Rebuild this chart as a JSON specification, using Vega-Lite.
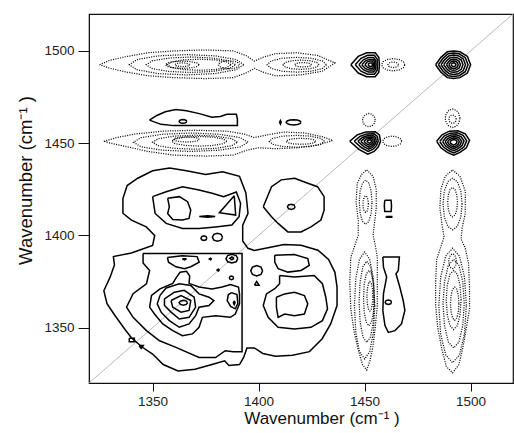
{
"$schema": "https://vega.github.io/schema/vega-lite/v6.json",
"width": 424, "height": 369,
"autosize": {"type": "none"},
"padding": {"left": 89, "top": 14, "right": 1, "bottom": 50},
"background": "white",
"config": {"view": {"stroke": "#111", "strokeWidth": 1.2}, "axis": {"labelFont": "Liberation Sans", "titleFont": "Liberation Sans"}},
"datasets": {
"diag": [{"x":1320,"y":1320},{"x":1520,"y":1520}],
"neg": [
{"c":1,"x":1325,"y":1492.5},{"c":1,"x":1330,"y":1495},{"c":1,"x":1338,"y":1497},{"c":1,"x":1348,"y":1499},{"c":1,"x":1360,"y":1500},{"c":1,"x":1375,"y":1500.5},{"c":1,"x":1388,"y":1500},{"c":1,"x":1394,"y":1497.5},{"c":1,"x":1398,"y":1494.5},{"c":1,"x":1402,"y":1496.5},{"c":1,"x":1408,"y":1498.5},{"c":1,"x":1418,"y":1499},{"c":1,"x":1428,"y":1497.5},{"c":1,"x":1436,"y":1493.5},{"c":1,"x":1430,"y":1489},{"c":1,"x":1420,"y":1487},{"c":1,"x":1408,"y":1486.5},{"c":1,"x":1402,"y":1488.5},{"c":1,"x":1398,"y":1490.5},{"c":1,"x":1394,"y":1488},{"c":1,"x":1388,"y":1485.5},{"c":1,"x":1375,"y":1485},{"c":1,"x":1360,"y":1485.5},{"c":1,"x":1348,"y":1486.5},{"c":1,"x":1338,"y":1488.5},{"c":1,"x":1330,"y":1490.5},{"c":1,"x":1325,"y":1492.5},
{"c":2,"x":1393,"y":1492.5},{"c":2,"x":1389.4,"y":1495.3},{"c":2,"x":1379.5,"y":1497.3},{"c":2,"x":1366,"y":1498},{"c":2,"x":1352.5,"y":1497.3},{"c":2,"x":1342.6,"y":1495.3},{"c":2,"x":1339,"y":1492.5},{"c":2,"x":1342.6,"y":1489.8},{"c":2,"x":1352.5,"y":1487.7},{"c":2,"x":1366,"y":1487},{"c":2,"x":1379.5,"y":1487.7},{"c":2,"x":1389.4,"y":1489.8},{"c":2,"x":1393,"y":1492.5},
{"c":3,"x":1389,"y":1492.5},{"c":3,"x":1386.2,"y":1494.6},{"c":3,"x":1378.5,"y":1496.1},{"c":3,"x":1368,"y":1496.7},{"c":3,"x":1357.5,"y":1496.1},{"c":3,"x":1349.8,"y":1494.6},{"c":3,"x":1347,"y":1492.5},{"c":3,"x":1349.8,"y":1490.4},{"c":3,"x":1357.5,"y":1488.9},{"c":3,"x":1368,"y":1488.3},{"c":3,"x":1378.5,"y":1488.9},{"c":3,"x":1386.2,"y":1490.4},{"c":3,"x":1389,"y":1492.5},
{"c":4,"x":1387,"y":1492.5},{"c":4,"x":1385,"y":1494},{"c":4,"x":1379.5,"y":1495.1},{"c":4,"x":1372,"y":1495.5},{"c":4,"x":1364.5,"y":1495.1},{"c":4,"x":1359,"y":1494},{"c":4,"x":1357,"y":1492.5},{"c":4,"x":1359,"y":1491},{"c":4,"x":1364.5,"y":1489.9},{"c":4,"x":1372,"y":1489.5},{"c":4,"x":1379.5,"y":1489.9},{"c":4,"x":1385,"y":1491},{"c":4,"x":1387,"y":1492.5},
{"c":5,"x":1372,"y":1492.5},{"c":5,"x":1370.9,"y":1493.5},{"c":5,"x":1368,"y":1494.2},{"c":5,"x":1364,"y":1494.5},{"c":5,"x":1360,"y":1494.2},{"c":5,"x":1357.1,"y":1493.5},{"c":5,"x":1356,"y":1492.5},{"c":5,"x":1357.1,"y":1491.5},{"c":5,"x":1360,"y":1490.8},{"c":5,"x":1364,"y":1490.5},{"c":5,"x":1368,"y":1490.8},{"c":5,"x":1370.9,"y":1491.5},{"c":5,"x":1372,"y":1492.5},
{"c":6,"x":1391,"y":1492.5},{"c":6,"x":1390.3,"y":1493.6},{"c":6,"x":1388.5,"y":1494.4},{"c":6,"x":1386,"y":1494.7},{"c":6,"x":1383.5,"y":1494.4},{"c":6,"x":1381.7,"y":1493.6},{"c":6,"x":1381,"y":1492.5},{"c":6,"x":1381.7,"y":1491.4},{"c":6,"x":1383.5,"y":1490.6},{"c":6,"x":1386,"y":1490.3},{"c":6,"x":1388.5,"y":1490.6},{"c":6,"x":1390.3,"y":1491.4},{"c":6,"x":1391,"y":1492.5},
{"c":7,"x":1367.5,"y":1492.5},{"c":7,"x":1367,"y":1493},{"c":7,"x":1365.75,"y":1493.4},{"c":7,"x":1364,"y":1493.5},{"c":7,"x":1362.25,"y":1493.4},{"c":7,"x":1361,"y":1493},{"c":7,"x":1360.5,"y":1492.5},{"c":7,"x":1361,"y":1492},{"c":7,"x":1362.25,"y":1491.6},{"c":7,"x":1364,"y":1491.5},{"c":7,"x":1365.75,"y":1491.6},{"c":7,"x":1367,"y":1492},{"c":7,"x":1367.5,"y":1492.5},
{"c":8,"x":1432,"y":1492.5},{"c":8,"x":1430.1,"y":1494.5},{"c":8,"x":1425,"y":1496},{"c":8,"x":1418,"y":1496.5},{"c":8,"x":1411,"y":1496},{"c":8,"x":1405.9,"y":1494.5},{"c":8,"x":1404,"y":1492.5},{"c":8,"x":1405.9,"y":1490.5},{"c":8,"x":1411,"y":1489},{"c":8,"x":1418,"y":1488.5},{"c":8,"x":1425,"y":1489},{"c":8,"x":1430.1,"y":1490.5},{"c":8,"x":1432,"y":1492.5},
{"c":9,"x":1428.5,"y":1492.5},{"c":9,"x":1427.4,"y":1493.75},{"c":9,"x":1424.25,"y":1494.7},{"c":9,"x":1420,"y":1495},{"c":9,"x":1415.75,"y":1494.7},{"c":9,"x":1412.6,"y":1493.75},{"c":9,"x":1411.5,"y":1492.5},{"c":9,"x":1412.6,"y":1491.25},{"c":9,"x":1415.75,"y":1490.3},{"c":9,"x":1420,"y":1490},{"c":9,"x":1424.25,"y":1490.3},{"c":9,"x":1427.4,"y":1491.25},{"c":9,"x":1428.5,"y":1492.5},
{"c":10,"x":1425,"y":1492.5},{"c":10,"x":1424.5,"y":1493.1},{"c":10,"x":1423,"y":1493.5},{"c":10,"x":1421,"y":1493.7},{"c":10,"x":1419,"y":1493.5},{"c":10,"x":1417.5,"y":1493.1},{"c":10,"x":1417,"y":1492.5},{"c":10,"x":1417.5,"y":1491.9},{"c":10,"x":1419,"y":1491.5},{"c":10,"x":1421,"y":1491.3},{"c":10,"x":1423,"y":1491.5},{"c":10,"x":1424.5,"y":1491.9},{"c":10,"x":1425,"y":1492.5},
{"c":11,"x":1327,"y":1451},{"c":11,"x":1333,"y":1453},{"c":11,"x":1342,"y":1455},{"c":11,"x":1355,"y":1456.5},{"c":11,"x":1370,"y":1457},{"c":11,"x":1385,"y":1456.5},{"c":11,"x":1393,"y":1455},{"c":11,"x":1398,"y":1453},{"c":11,"x":1404,"y":1454.5},{"c":11,"x":1412,"y":1456},{"c":11,"x":1422,"y":1455.5},{"c":11,"x":1430,"y":1453.5},{"c":11,"x":1435,"y":1451.5},{"c":11,"x":1428,"y":1449},{"c":11,"x":1418,"y":1447.5},{"c":11,"x":1408,"y":1447},{"c":11,"x":1400,"y":1447.5},{"c":11,"x":1394,"y":1446},{"c":11,"x":1388,"y":1443.5},{"c":11,"x":1375,"y":1443},{"c":11,"x":1360,"y":1443.5},{"c":11,"x":1348,"y":1445.5},{"c":11,"x":1338,"y":1448},{"c":11,"x":1330,"y":1450},{"c":11,"x":1327,"y":1451},
{"c":12,"x":1395,"y":1450.5},{"c":12,"x":1391.4,"y":1453},{"c":12,"x":1381.5,"y":1454.8},{"c":12,"x":1368,"y":1455.5},{"c":12,"x":1354.5,"y":1454.8},{"c":12,"x":1344.6,"y":1453},{"c":12,"x":1341,"y":1450.5},{"c":12,"x":1344.6,"y":1448},{"c":12,"x":1354.5,"y":1446.2},{"c":12,"x":1368,"y":1445.5},{"c":12,"x":1381.5,"y":1446.2},{"c":12,"x":1391.4,"y":1448},{"c":12,"x":1395,"y":1450.5},
{"c":13,"x":1390,"y":1450.5},{"c":13,"x":1387.3,"y":1452.4},{"c":13,"x":1380,"y":1453.8},{"c":13,"x":1370,"y":1454.3},{"c":13,"x":1360,"y":1453.8},{"c":13,"x":1352.7,"y":1452.4},{"c":13,"x":1350,"y":1450.5},{"c":13,"x":1352.7,"y":1448.6},{"c":13,"x":1360,"y":1447.2},{"c":13,"x":1370,"y":1446.7},{"c":13,"x":1380,"y":1447.2},{"c":13,"x":1387.3,"y":1448.6},{"c":13,"x":1390,"y":1450.5},
{"c":14,"x":1385,"y":1451},{"c":14,"x":1383.3,"y":1452.3},{"c":14,"x":1378.5,"y":1453.25},{"c":14,"x":1372,"y":1453.6},{"c":14,"x":1365.5,"y":1453.25},{"c":14,"x":1360.7,"y":1452.3},{"c":14,"x":1359,"y":1451},{"c":14,"x":1360.7,"y":1449.7},{"c":14,"x":1365.5,"y":1448.75},{"c":14,"x":1372,"y":1448.4},{"c":14,"x":1378.5,"y":1448.75},{"c":14,"x":1383.3,"y":1449.7},{"c":14,"x":1385,"y":1451},
{"c":15,"x":1372,"y":1452},{"c":15,"x":1371.2,"y":1452.7},{"c":15,"x":1369,"y":1453.2},{"c":15,"x":1366,"y":1453.4},{"c":15,"x":1363,"y":1453.2},{"c":15,"x":1360.8,"y":1452.7},{"c":15,"x":1360,"y":1452},{"c":15,"x":1360.8,"y":1451.3},{"c":15,"x":1363,"y":1450.8},{"c":15,"x":1366,"y":1450.6},{"c":15,"x":1369,"y":1450.8},{"c":15,"x":1371.2,"y":1451.3},{"c":15,"x":1372,"y":1452},
{"c":16,"x":1431,"y":1451},{"c":16,"x":1429.3,"y":1452.6},{"c":16,"x":1424.5,"y":1453.8},{"c":16,"x":1418,"y":1454.2},{"c":16,"x":1411.5,"y":1453.8},{"c":16,"x":1406.7,"y":1452.6},{"c":16,"x":1405,"y":1451},{"c":16,"x":1406.7,"y":1449.4},{"c":16,"x":1411.5,"y":1448.2},{"c":16,"x":1418,"y":1447.8},{"c":16,"x":1424.5,"y":1448.2},{"c":16,"x":1429.3,"y":1449.4},{"c":16,"x":1431,"y":1451},
{"c":17,"x":1427,"y":1451},{"c":17,"x":1426.1,"y":1451.8},{"c":17,"x":1423.5,"y":1452.4},{"c":17,"x":1420,"y":1452.6},{"c":17,"x":1416.5,"y":1452.4},{"c":17,"x":1413.9,"y":1451.8},{"c":17,"x":1413,"y":1451},{"c":17,"x":1413.9,"y":1450.2},{"c":17,"x":1416.5,"y":1449.6},{"c":17,"x":1420,"y":1449.4},{"c":17,"x":1423.5,"y":1449.6},{"c":17,"x":1426.1,"y":1450.2},{"c":17,"x":1427,"y":1451},
{"c":18,"x":1469,"y":1492.5},{"c":18,"x":1468.26,"y":1494.15},{"c":18,"x":1466.25,"y":1495.36},{"c":18,"x":1463.5,"y":1495.8},{"c":18,"x":1460.75,"y":1495.36},{"c":18,"x":1458.74,"y":1494.15},{"c":18,"x":1458,"y":1492.5},{"c":18,"x":1458.74,"y":1490.85},{"c":18,"x":1460.75,"y":1489.64},{"c":18,"x":1463.5,"y":1489.2},{"c":18,"x":1466.25,"y":1489.64},{"c":18,"x":1468.26,"y":1490.85},{"c":18,"x":1469,"y":1492.5},
{"c":19,"x":1466,"y":1492.5},{"c":19,"x":1465.7,"y":1493.25},{"c":19,"x":1464.75,"y":1493.8},{"c":19,"x":1463.5,"y":1494},{"c":19,"x":1462.25,"y":1493.8},{"c":19,"x":1461.3,"y":1493.25},{"c":19,"x":1461,"y":1492.5},{"c":19,"x":1461.3,"y":1491.75},{"c":19,"x":1462.25,"y":1491.2},{"c":19,"x":1463.5,"y":1491},{"c":19,"x":1464.75,"y":1491.2},{"c":19,"x":1465.7,"y":1491.75},{"c":19,"x":1466,"y":1492.5},
{"c":20,"x":1455,"y":1462.5},{"c":20,"x":1454.6,"y":1464.3},{"c":20,"x":1453.5,"y":1465.6},{"c":20,"x":1452,"y":1466.1},{"c":20,"x":1450.5,"y":1465.6},{"c":20,"x":1449.4,"y":1464.3},{"c":20,"x":1449,"y":1462.5},{"c":20,"x":1449.4,"y":1460.7},{"c":20,"x":1450.5,"y":1459.4},{"c":20,"x":1452,"y":1458.9},{"c":20,"x":1453.5,"y":1459.4},{"c":20,"x":1454.6,"y":1460.7},{"c":20,"x":1455,"y":1462.5},
{"c":21,"x":1467.5,"y":1451},{"c":21,"x":1466.9,"y":1452.4},{"c":21,"x":1465.25,"y":1453.4},{"c":21,"x":1463,"y":1453.8},{"c":21,"x":1460.75,"y":1453.4},{"c":21,"x":1459.1,"y":1452.4},{"c":21,"x":1458.5,"y":1451},{"c":21,"x":1459.1,"y":1449.6},{"c":21,"x":1460.75,"y":1448.6},{"c":21,"x":1463,"y":1448.2},{"c":21,"x":1465.25,"y":1448.6},{"c":21,"x":1466.9,"y":1449.6},{"c":21,"x":1467.5,"y":1451},
{"c":22,"x":1495,"y":1463.5},{"c":22,"x":1494.5,"y":1466},{"c":22,"x":1493.25,"y":1467.8},{"c":22,"x":1491.5,"y":1468.5},{"c":22,"x":1489.75,"y":1467.8},{"c":22,"x":1488.5,"y":1466},{"c":22,"x":1488,"y":1463.5},{"c":22,"x":1488.5,"y":1461},{"c":22,"x":1489.75,"y":1459.2},{"c":22,"x":1491.5,"y":1458.5},{"c":22,"x":1493.25,"y":1459.2},{"c":22,"x":1494.5,"y":1461},{"c":22,"x":1495,"y":1463.5},
{"c":23,"x":1493.2,"y":1463},{"c":23,"x":1493,"y":1464.15},{"c":23,"x":1492.35,"y":1465},{"c":23,"x":1491.5,"y":1465.3},{"c":23,"x":1490.65,"y":1465},{"c":23,"x":1490,"y":1464.15},{"c":23,"x":1489.8,"y":1463},{"c":23,"x":1490,"y":1461.85},{"c":23,"x":1490.65,"y":1461},{"c":23,"x":1491.5,"y":1460.7},{"c":23,"x":1492.35,"y":1461},{"c":23,"x":1493,"y":1461.85},{"c":23,"x":1493.2,"y":1463},
{"c":24,"x":1451,"y":1435.5},{"c":24,"x":1454,"y":1432},{"c":24,"x":1455.5,"y":1425},{"c":24,"x":1455.5,"y":1415},{"c":24,"x":1454.5,"y":1405},{"c":24,"x":1454,"y":1400},{"c":24,"x":1455,"y":1395},{"c":24,"x":1456,"y":1388},{"c":24,"x":1456,"y":1375},{"c":24,"x":1456,"y":1362},{"c":24,"x":1455,"y":1350},{"c":24,"x":1454,"y":1340},{"c":24,"x":1452.5,"y":1332},{"c":24,"x":1451,"y":1327},{"c":24,"x":1449,"y":1330},{"c":24,"x":1447,"y":1338},{"c":24,"x":1445,"y":1348},{"c":24,"x":1443.5,"y":1360},{"c":24,"x":1443,"y":1375},{"c":24,"x":1443.5,"y":1388},{"c":24,"x":1445.5,"y":1395},{"c":24,"x":1447,"y":1400},{"c":24,"x":1447,"y":1408},{"c":24,"x":1446,"y":1418},{"c":24,"x":1446.5,"y":1428},{"c":24,"x":1448.5,"y":1433},{"c":24,"x":1451,"y":1435.5},
{"c":25,"x":1453.5,"y":1418},{"c":25,"x":1453.1,"y":1424},{"c":25,"x":1452,"y":1428.4},{"c":25,"x":1450.5,"y":1430},{"c":25,"x":1449,"y":1428.4},{"c":25,"x":1447.9,"y":1424},{"c":25,"x":1447.5,"y":1418},{"c":25,"x":1447.9,"y":1412},{"c":25,"x":1449,"y":1407.6},{"c":25,"x":1450.5,"y":1406},{"c":25,"x":1452,"y":1407.6},{"c":25,"x":1453.1,"y":1412},{"c":25,"x":1453.5,"y":1418},
{"c":26,"x":1451.8,"y":1417},{"c":26,"x":1451.6,"y":1419.25},{"c":26,"x":1451.15,"y":1420.9},{"c":26,"x":1450.5,"y":1421.5},{"c":26,"x":1449.85,"y":1420.9},{"c":26,"x":1449.4,"y":1419.25},{"c":26,"x":1449.2,"y":1417},{"c":26,"x":1449.4,"y":1414.75},{"c":26,"x":1449.85,"y":1413.1},{"c":26,"x":1450.5,"y":1412.5},{"c":26,"x":1451.15,"y":1413.1},{"c":26,"x":1451.6,"y":1414.75},{"c":26,"x":1451.8,"y":1417},
{"c":27,"x":1454.8,"y":1362},{"c":27,"x":1454.16,"y":1376.5},{"c":27,"x":1452.4,"y":1387.1},{"c":27,"x":1450,"y":1391},{"c":27,"x":1447.6,"y":1387.1},{"c":27,"x":1445.84,"y":1376.5},{"c":27,"x":1445.2,"y":1362},{"c":27,"x":1445.84,"y":1347.5},{"c":27,"x":1447.6,"y":1336.9},{"c":27,"x":1450,"y":1333},{"c":27,"x":1452.4,"y":1336.9},{"c":27,"x":1454.16,"y":1347.5},{"c":27,"x":1454.8,"y":1362},
{"c":28,"x":1454.6,"y":1364},{"c":28,"x":1454.1,"y":1375},{"c":28,"x":1452.8,"y":1383.05},{"c":28,"x":1451,"y":1386},{"c":28,"x":1449.2,"y":1383.05},{"c":28,"x":1447.9,"y":1375},{"c":28,"x":1447.4,"y":1364},{"c":28,"x":1447.9,"y":1353},{"c":28,"x":1449.2,"y":1344.95},{"c":28,"x":1451,"y":1342},{"c":28,"x":1452.8,"y":1344.95},{"c":28,"x":1454.1,"y":1353},{"c":28,"x":1454.6,"y":1364},
{"c":29,"x":1454.5,"y":1366},{"c":29,"x":1454.2,"y":1373.5},{"c":29,"x":1453.25,"y":1379},{"c":29,"x":1452,"y":1381},{"c":29,"x":1450.75,"y":1379},{"c":29,"x":1449.8,"y":1373.5},{"c":29,"x":1449.5,"y":1366},{"c":29,"x":1449.8,"y":1358.5},{"c":29,"x":1450.75,"y":1353},{"c":29,"x":1452,"y":1351},{"c":29,"x":1453.25,"y":1353},{"c":29,"x":1454.2,"y":1358.5},{"c":29,"x":1454.5,"y":1366},
{"c":30,"x":1453.9,"y":1367},{"c":30,"x":1453.7,"y":1371},{"c":30,"x":1453.2,"y":1373.9},{"c":30,"x":1452.5,"y":1375},{"c":30,"x":1451.8,"y":1373.9},{"c":30,"x":1451.3,"y":1371},{"c":30,"x":1451.1,"y":1367},{"c":30,"x":1451.3,"y":1363},{"c":30,"x":1451.8,"y":1360.1},{"c":30,"x":1452.5,"y":1359},{"c":30,"x":1453.2,"y":1360.1},{"c":30,"x":1453.7,"y":1363},{"c":30,"x":1453.9,"y":1367},
{"c":31,"x":1491.5,"y":1435.5},{"c":31,"x":1495,"y":1432},{"c":31,"x":1497.5,"y":1424},{"c":31,"x":1497.5,"y":1412},{"c":31,"x":1496,"y":1404},{"c":31,"x":1495.5,"y":1398},{"c":31,"x":1497.5,"y":1393},{"c":31,"x":1499,"y":1385},{"c":31,"x":1499.5,"y":1372},{"c":31,"x":1499.5,"y":1360},{"c":31,"x":1498,"y":1350},{"c":31,"x":1496.5,"y":1340},{"c":31,"x":1494.5,"y":1330},{"c":31,"x":1491.5,"y":1325.5},{"c":31,"x":1488.5,"y":1329},{"c":31,"x":1486.5,"y":1338},{"c":31,"x":1484.5,"y":1350},{"c":31,"x":1483.5,"y":1362},{"c":31,"x":1483.5,"y":1375},{"c":31,"x":1484,"y":1387},{"c":31,"x":1486,"y":1394},{"c":31,"x":1487.5,"y":1399},{"c":31,"x":1486.5,"y":1406},{"c":31,"x":1485.5,"y":1415},{"c":31,"x":1486,"y":1425},{"c":31,"x":1488,"y":1432},{"c":31,"x":1491.5,"y":1435.5},
{"c":32,"x":1496,"y":1417},{"c":32,"x":1495.4,"y":1424},{"c":32,"x":1493.75,"y":1429.1},{"c":32,"x":1491.5,"y":1431},{"c":32,"x":1489.25,"y":1429.1},{"c":32,"x":1487.6,"y":1424},{"c":32,"x":1487,"y":1417},{"c":32,"x":1487.6,"y":1410},{"c":32,"x":1489.25,"y":1404.9},{"c":32,"x":1491.5,"y":1403},{"c":32,"x":1493.75,"y":1404.9},{"c":32,"x":1495.4,"y":1410},{"c":32,"x":1496,"y":1417},
{"c":33,"x":1493.8,"y":1418},{"c":33,"x":1493.5,"y":1422},{"c":33,"x":1492.65,"y":1424.9},{"c":33,"x":1491.5,"y":1426},{"c":33,"x":1490.35,"y":1424.9},{"c":33,"x":1489.5,"y":1422},{"c":33,"x":1489.2,"y":1418},{"c":33,"x":1489.5,"y":1414},{"c":33,"x":1490.35,"y":1411.1},{"c":33,"x":1491.5,"y":1410},{"c":33,"x":1492.65,"y":1411.1},{"c":33,"x":1493.5,"y":1414},{"c":33,"x":1493.8,"y":1418},
{"c":34,"x":1498,"y":1362},{"c":34,"x":1497.1,"y":1377.5},{"c":34,"x":1494.75,"y":1388.8},{"c":34,"x":1491.5,"y":1393},{"c":34,"x":1488.25,"y":1388.8},{"c":34,"x":1485.9,"y":1377.5},{"c":34,"x":1485,"y":1362},{"c":34,"x":1485.9,"y":1346.5},{"c":34,"x":1488.25,"y":1335.2},{"c":34,"x":1491.5,"y":1331},{"c":34,"x":1494.75,"y":1335.2},{"c":34,"x":1497.1,"y":1346.5},{"c":34,"x":1498,"y":1362},
{"c":35,"x":1497,"y":1363},{"c":35,"x":1496.3,"y":1375},{"c":35,"x":1494.5,"y":1383.8},{"c":35,"x":1492,"y":1387},{"c":35,"x":1489.5,"y":1383.8},{"c":35,"x":1487.7,"y":1375},{"c":35,"x":1487,"y":1363},{"c":35,"x":1487.7,"y":1351},{"c":35,"x":1489.5,"y":1342.2},{"c":35,"x":1492,"y":1339},{"c":35,"x":1494.5,"y":1342.2},{"c":35,"x":1496.3,"y":1351},{"c":35,"x":1497,"y":1363},
{"c":36,"x":1495.5,"y":1365},{"c":36,"x":1495,"y":1373},{"c":36,"x":1493.75,"y":1378.9},{"c":36,"x":1492,"y":1381},{"c":36,"x":1490.25,"y":1378.9},{"c":36,"x":1489,"y":1373},{"c":36,"x":1488.5,"y":1365},{"c":36,"x":1489,"y":1357},{"c":36,"x":1490.25,"y":1351.1},{"c":36,"x":1492,"y":1349},{"c":36,"x":1493.75,"y":1351.1},{"c":36,"x":1495,"y":1357},{"c":36,"x":1495.5,"y":1365},
{"c":37,"x":1494.5,"y":1363},{"c":37,"x":1494.2,"y":1367.5},{"c":37,"x":1493.5,"y":1370.8},{"c":37,"x":1492.5,"y":1372},{"c":37,"x":1491.5,"y":1370.8},{"c":37,"x":1490.8,"y":1367.5},{"c":37,"x":1490.5,"y":1363},{"c":37,"x":1490.8,"y":1358.5},{"c":37,"x":1491.5,"y":1355.2},{"c":37,"x":1492.5,"y":1354},{"c":37,"x":1493.5,"y":1355.2},{"c":37,"x":1494.2,"y":1358.5},{"c":37,"x":1494.5,"y":1363},
{"c":38,"x":1493.3,"y":1386},{"c":38,"x":1493.06,"y":1388},{"c":38,"x":1492.4,"y":1389.46},{"c":38,"x":1491.5,"y":1390},{"c":38,"x":1490.6,"y":1389.46},{"c":38,"x":1489.94,"y":1388},{"c":38,"x":1489.7,"y":1386},{"c":38,"x":1489.94,"y":1384},{"c":38,"x":1490.6,"y":1382.54},{"c":38,"x":1491.5,"y":1382},{"c":38,"x":1492.4,"y":1382.54},{"c":38,"x":1493.06,"y":1384},{"c":38,"x":1493.3,"y":1386}
],
"pos": [
{"c":101,"x":1348.5,"y":1462.5},{"c":101,"x":1352,"y":1465},{"c":101,"x":1356,"y":1467},{"c":101,"x":1361,"y":1468.2},{"c":101,"x":1366,"y":1467.5},{"c":101,"x":1372,"y":1466},{"c":101,"x":1378,"y":1464},{"c":101,"x":1382,"y":1464.5},{"c":101,"x":1385,"y":1465.7},{"c":101,"x":1389.5,"y":1465.7},{"c":101,"x":1390,"y":1463},{"c":101,"x":1390,"y":1459.5},{"c":101,"x":1380,"y":1459.5},{"c":101,"x":1370,"y":1459.5},{"c":101,"x":1360,"y":1459.5},{"c":101,"x":1354,"y":1460.2},{"c":101,"x":1348.5,"y":1462.5},
{"c":102,"x":1366.1,"y":1461.8},{"c":102,"x":1365.86,"y":1462.3},{"c":102,"x":1365.2,"y":1462.67},{"c":102,"x":1364.3,"y":1462.8},{"c":102,"x":1363.4,"y":1462.67},{"c":102,"x":1362.74,"y":1462.3},{"c":102,"x":1362.5,"y":1461.8},{"c":102,"x":1362.74,"y":1461.3},{"c":102,"x":1363.4,"y":1460.93},{"c":102,"x":1364.3,"y":1460.8},{"c":102,"x":1365.2,"y":1460.93},{"c":102,"x":1365.86,"y":1461.3},{"c":102,"x":1366.1,"y":1461.8},
{"c":103,"x":1420,"y":1461.3},{"c":103,"x":1419.5,"y":1462},{"c":103,"x":1418.25,"y":1462.5},{"c":103,"x":1416.5,"y":1462.7},{"c":103,"x":1414.75,"y":1462.5},{"c":103,"x":1413.5,"y":1462},{"c":103,"x":1413,"y":1461.3},{"c":103,"x":1413.5,"y":1460.6},{"c":103,"x":1414.75,"y":1460.1},{"c":103,"x":1416.5,"y":1459.9},{"c":103,"x":1418.25,"y":1460.1},{"c":103,"x":1419.5,"y":1460.6},{"c":103,"x":1420,"y":1461.3},
{"c":104,"x":1410.7,"y":1461.3},{"c":104,"x":1410.3,"y":1462.3},{"c":104,"x":1409.9,"y":1461.3},{"c":104,"x":1410.3,"y":1460.3},{"c":104,"x":1410.7,"y":1461.3},
{"c":111,"x":1443.5,"y":1492.5},{"c":111,"x":1447,"y":1497},{"c":111,"x":1451,"y":1499},{"c":111,"x":1455,"y":1499},{"c":111,"x":1456.7,"y":1496.5},{"c":111,"x":1457,"y":1492.5},{"c":111,"x":1456.7,"y":1488.5},{"c":111,"x":1455,"y":1486},{"c":111,"x":1451,"y":1486},{"c":111,"x":1447,"y":1488},{"c":111,"x":1443.5,"y":1492.5},
{"c":112,"x":1445.6,"y":1492.5},{"c":112,"x":1448.3,"y":1496},{"c":112,"x":1451.4,"y":1497.6},{"c":112,"x":1454.6,"y":1497.6},{"c":112,"x":1455.9,"y":1495.6},{"c":112,"x":1456.1,"y":1492.5},{"c":112,"x":1455.9,"y":1489.4},{"c":112,"x":1454.6,"y":1487.4},{"c":112,"x":1451.4,"y":1487.4},{"c":112,"x":1448.3,"y":1489},{"c":112,"x":1445.6,"y":1492.5},
{"c":113,"x":1447.3,"y":1492.5},{"c":113,"x":1449.4,"y":1495.2},{"c":113,"x":1451.8,"y":1496.4},{"c":113,"x":1454.2,"y":1496.4},{"c":113,"x":1455.2,"y":1494.9},{"c":113,"x":1455.4,"y":1492.5},{"c":113,"x":1455.2,"y":1490.1},{"c":113,"x":1454.2,"y":1488.6},{"c":113,"x":1451.8,"y":1488.6},{"c":113,"x":1449.4,"y":1489.8},{"c":113,"x":1447.3,"y":1492.5},
{"c":114,"x":1448.7,"y":1492.5},{"c":114,"x":1450.3,"y":1494.5},{"c":114,"x":1452.1,"y":1495.4},{"c":114,"x":1453.9,"y":1495.4},{"c":114,"x":1454.7,"y":1494.3},{"c":114,"x":1454.8,"y":1492.5},{"c":114,"x":1454.7,"y":1490.7},{"c":114,"x":1453.9,"y":1489.6},{"c":114,"x":1452.1,"y":1489.6},{"c":114,"x":1450.3,"y":1490.5},{"c":114,"x":1448.7,"y":1492.5},
{"c":115,"x":1450.1,"y":1492.5},{"c":115,"x":1451.2,"y":1493.9},{"c":115,"x":1452.4,"y":1494.5},{"c":115,"x":1453.6,"y":1494.5},{"c":115,"x":1454.1,"y":1493.7},{"c":115,"x":1454.2,"y":1492.5},{"c":115,"x":1454.1,"y":1491.3},{"c":115,"x":1453.6,"y":1490.6},{"c":115,"x":1452.4,"y":1490.6},{"c":115,"x":1451.2,"y":1491.2},{"c":115,"x":1450.1,"y":1492.5},
{"c":116,"x":1451.6,"y":1492.5},{"c":116,"x":1452.1,"y":1493.2},{"c":116,"x":1452.7,"y":1493.5},{"c":116,"x":1453.3,"y":1493.5},{"c":116,"x":1453.6,"y":1493.1},{"c":116,"x":1453.6,"y":1492.5},{"c":116,"x":1453.6,"y":1491.9},{"c":116,"x":1453.3,"y":1491.5},{"c":116,"x":1452.7,"y":1491.5},{"c":116,"x":1452.1,"y":1491.8},{"c":116,"x":1451.6,"y":1492.5},
{"c":121,"x":1483.5,"y":1492.5},{"c":121,"x":1486,"y":1496.5},{"c":121,"x":1489,"y":1499.5},{"c":121,"x":1492,"y":1500},{"c":121,"x":1495,"y":1499.5},{"c":121,"x":1498.5,"y":1497},{"c":121,"x":1500,"y":1492.5},{"c":121,"x":1498.5,"y":1488},{"c":121,"x":1495,"y":1485.5},{"c":121,"x":1492,"y":1485},{"c":121,"x":1489,"y":1485.5},{"c":121,"x":1486,"y":1488.5},{"c":121,"x":1483.5,"y":1492.5},
{"c":122,"x":1484.8,"y":1492.5},{"c":122,"x":1486.9,"y":1495.9},{"c":122,"x":1489.45,"y":1498.45},{"c":122,"x":1492,"y":1498.9},{"c":122,"x":1494.55,"y":1498.45},{"c":122,"x":1497.5,"y":1496.3},{"c":122,"x":1498.8,"y":1492.5},{"c":122,"x":1497.5,"y":1488.7},{"c":122,"x":1494.55,"y":1486.55},{"c":122,"x":1492,"y":1486.1},{"c":122,"x":1489.45,"y":1486.55},{"c":122,"x":1486.9,"y":1489.1},{"c":122,"x":1484.8,"y":1492.5},
{"c":123,"x":1486.05,"y":1492.5},{"c":123,"x":1487.8,"y":1495.3},{"c":123,"x":1489.9,"y":1497.4},{"c":123,"x":1492,"y":1497.75},{"c":123,"x":1494.1,"y":1497.4},{"c":123,"x":1496.55,"y":1495.65},{"c":123,"x":1497.6,"y":1492.5},{"c":123,"x":1496.55,"y":1489.35},{"c":123,"x":1494.1,"y":1487.6},{"c":123,"x":1492,"y":1487.25},{"c":123,"x":1489.9,"y":1487.6},{"c":123,"x":1487.8,"y":1489.7},{"c":123,"x":1486.05,"y":1492.5},
{"c":124,"x":1487.3,"y":1492.5},{"c":124,"x":1488.7,"y":1494.7},{"c":124,"x":1490.35,"y":1496.35},{"c":124,"x":1492,"y":1496.6},{"c":124,"x":1493.65,"y":1496.35},{"c":124,"x":1495.6,"y":1495},{"c":124,"x":1496.4,"y":1492.5},{"c":124,"x":1495.6,"y":1490},{"c":124,"x":1493.65,"y":1488.65},{"c":124,"x":1492,"y":1488.4},{"c":124,"x":1490.35,"y":1488.65},{"c":124,"x":1488.7,"y":1490.3},{"c":124,"x":1487.3,"y":1492.5},
{"c":125,"x":1488.6,"y":1492.5},{"c":125,"x":1489.6,"y":1494.1},{"c":125,"x":1490.8,"y":1495.3},{"c":125,"x":1492,"y":1495.5},{"c":125,"x":1493.2,"y":1495.3},{"c":125,"x":1494.6,"y":1494.3},{"c":125,"x":1495.2,"y":1492.5},{"c":125,"x":1494.6,"y":1490.7},{"c":125,"x":1493.2,"y":1489.7},{"c":125,"x":1492,"y":1489.5},{"c":125,"x":1490.8,"y":1489.7},{"c":125,"x":1489.6,"y":1490.9},{"c":125,"x":1488.6,"y":1492.5},
{"c":126,"x":1489.7,"y":1492.5},{"c":126,"x":1490.4,"y":1493.6},{"c":126,"x":1491.2,"y":1494.4},{"c":126,"x":1492,"y":1494.5},{"c":126,"x":1492.8,"y":1494.4},{"c":126,"x":1493.75,"y":1493.7},{"c":126,"x":1494.15,"y":1492.5},{"c":126,"x":1493.75,"y":1491.3},{"c":126,"x":1492.8,"y":1490.6},{"c":126,"x":1492,"y":1490.5},{"c":126,"x":1491.2,"y":1490.6},{"c":126,"x":1490.4,"y":1491.4},{"c":126,"x":1489.7,"y":1492.5},
{"c":127,"x":1490.8,"y":1492.5},{"c":127,"x":1491.15,"y":1493.05},{"c":127,"x":1491.6,"y":1493.5},{"c":127,"x":1492,"y":1493.55},{"c":127,"x":1492.4,"y":1493.5},{"c":127,"x":1492.9,"y":1493.1},{"c":127,"x":1493.1,"y":1492.5},{"c":127,"x":1492.9,"y":1491.9},{"c":127,"x":1492.4,"y":1491.5},{"c":127,"x":1492,"y":1491.45},{"c":127,"x":1491.6,"y":1491.5},{"c":127,"x":1491.15,"y":1491.95},{"c":127,"x":1490.8,"y":1492.5},
{"c":131,"x":1443,"y":1451},{"c":131,"x":1446.5,"y":1454.5},{"c":131,"x":1450.5,"y":1456},{"c":131,"x":1455,"y":1456.2},{"c":131,"x":1457,"y":1454.5},{"c":131,"x":1457.5,"y":1451},{"c":131,"x":1456.5,"y":1448},{"c":131,"x":1454.5,"y":1445.5},{"c":131,"x":1451.5,"y":1444},{"c":131,"x":1447.5,"y":1446.5},{"c":131,"x":1443,"y":1451},
{"c":132,"x":1445.1,"y":1451},{"c":132,"x":1447.8,"y":1453.7},{"c":132,"x":1450.9,"y":1454.9},{"c":132,"x":1454.45,"y":1455.05},{"c":132,"x":1456,"y":1453.7},{"c":132,"x":1456.4,"y":1451},{"c":132,"x":1455.6,"y":1448.65},{"c":132,"x":1454.05,"y":1446.7},{"c":132,"x":1451.7,"y":1445.55},{"c":132,"x":1448.6,"y":1447.5},{"c":132,"x":1445.1,"y":1451},
{"c":133,"x":1446.8,"y":1451},{"c":133,"x":1448.9,"y":1453.1},{"c":133,"x":1451.3,"y":1454},{"c":133,"x":1454,"y":1454.1},{"c":133,"x":1455.2,"y":1453.1},{"c":133,"x":1455.5,"y":1451},{"c":133,"x":1454.9,"y":1449.2},{"c":133,"x":1453.7,"y":1447.7},{"c":133,"x":1451.9,"y":1446.8},{"c":133,"x":1449.5,"y":1448.3},{"c":133,"x":1446.8,"y":1451},
{"c":134,"x":1448.2,"y":1451},{"c":134,"x":1449.8,"y":1452.6},{"c":134,"x":1451.6,"y":1453.25},{"c":134,"x":1453.6,"y":1453.35},{"c":134,"x":1454.5,"y":1452.6},{"c":134,"x":1454.75,"y":1451},{"c":134,"x":1454.3,"y":1449.65},{"c":134,"x":1453.4,"y":1448.5},{"c":134,"x":1452.05,"y":1447.85},{"c":134,"x":1450.25,"y":1449},{"c":134,"x":1448.2,"y":1451},
{"c":135,"x":1449.65,"y":1451},{"c":135,"x":1450.7,"y":1452.05},{"c":135,"x":1451.9,"y":1452.5},{"c":135,"x":1453.25,"y":1452.55},{"c":135,"x":1453.85,"y":1452.05},{"c":135,"x":1454,"y":1451},{"c":135,"x":1453.7,"y":1450.1},{"c":135,"x":1453.1,"y":1449.35},{"c":135,"x":1452.2,"y":1448.9},{"c":135,"x":1451,"y":1449.65},{"c":135,"x":1449.65,"y":1451},
{"c":136,"x":1451.1,"y":1451},{"c":136,"x":1451.6,"y":1451.5},{"c":136,"x":1452.2,"y":1451.75},{"c":136,"x":1452.9,"y":1451.8},{"c":136,"x":1453.2,"y":1451.5},{"c":136,"x":1453.25,"y":1451},{"c":136,"x":1453.1,"y":1450.55},{"c":136,"x":1452.8,"y":1450.2},{"c":136,"x":1452.35,"y":1449.95},{"c":136,"x":1451.75,"y":1450.3},{"c":136,"x":1451.1,"y":1451},
{"c":141,"x":1484,"y":1451},{"c":141,"x":1486.5,"y":1454.5},{"c":141,"x":1490,"y":1456.5},{"c":141,"x":1494,"y":1456.7},{"c":141,"x":1497.5,"y":1455},{"c":141,"x":1499.5,"y":1451.5},{"c":141,"x":1498,"y":1447.5},{"c":141,"x":1495,"y":1445},{"c":141,"x":1492,"y":1443.5},{"c":141,"x":1489,"y":1445},{"c":141,"x":1486,"y":1447.5},{"c":141,"x":1484,"y":1451},
{"c":142,"x":1485.45,"y":1450.9},{"c":142,"x":1487.5,"y":1453.8},{"c":142,"x":1490.35,"y":1455.4},{"c":142,"x":1493.65,"y":1455.6},{"c":142,"x":1496.5,"y":1454.2},{"c":142,"x":1498.15,"y":1451.3},{"c":142,"x":1496.9,"y":1448.05},{"c":142,"x":1494.45,"y":1446},{"c":142,"x":1492,"y":1444.75},{"c":142,"x":1489.55,"y":1446},{"c":142,"x":1487.1,"y":1448.05},{"c":142,"x":1485.45,"y":1450.9},
{"c":143,"x":1486.8,"y":1450.8},{"c":143,"x":1488.4,"y":1453.1},{"c":143,"x":1490.7,"y":1454.4},{"c":143,"x":1493.3,"y":1454.5},{"c":143,"x":1495.6,"y":1453.4},{"c":143,"x":1496.9,"y":1451.15},{"c":143,"x":1495.9,"y":1448.55},{"c":143,"x":1493.95,"y":1446.9},{"c":143,"x":1492,"y":1445.95},{"c":143,"x":1490.05,"y":1446.9},{"c":143,"x":1488.1,"y":1448.55},{"c":143,"x":1486.8,"y":1450.8},
{"c":144,"x":1488,"y":1450.75},{"c":144,"x":1489.25,"y":1452.5},{"c":144,"x":1491,"y":1453.5},{"c":144,"x":1493,"y":1453.6},{"c":144,"x":1494.75,"y":1452.75},{"c":144,"x":1495.75,"y":1451},{"c":144,"x":1495,"y":1449},{"c":144,"x":1493.5,"y":1447.75},{"c":144,"x":1492,"y":1447},{"c":144,"x":1490.5,"y":1447.75},{"c":144,"x":1489,"y":1449},{"c":144,"x":1488,"y":1450.75},
{"c":145,"x":1489.1,"y":1450.7},{"c":145,"x":1490,"y":1451.95},{"c":145,"x":1491.3,"y":1452.65},{"c":145,"x":1492.7,"y":1452.75},{"c":145,"x":1494,"y":1452.1},{"c":145,"x":1494.7,"y":1450.85},{"c":145,"x":1494.15,"y":1449.4},{"c":145,"x":1493.1,"y":1448.5},{"c":145,"x":1492,"y":1448},{"c":145,"x":1490.9,"y":1448.5},{"c":145,"x":1489.85,"y":1449.4},{"c":145,"x":1489.1,"y":1450.7},
{"c":146,"x":1490.25,"y":1450.6},{"c":146,"x":1490.8,"y":1451.4},{"c":146,"x":1491.55,"y":1451.8},{"c":146,"x":1492.45,"y":1451.85},{"c":146,"x":1493.2,"y":1451.5},{"c":146,"x":1493.65,"y":1450.7},{"c":146,"x":1493.3,"y":1449.85},{"c":146,"x":1492.65,"y":1449.3},{"c":146,"x":1492,"y":1448.95},{"c":146,"x":1491.35,"y":1449.3},{"c":146,"x":1490.7,"y":1449.85},{"c":146,"x":1490.25,"y":1450.6},
{"c":151,"x":1336,"y":1420},{"c":151,"x":1338,"y":1427},{"c":151,"x":1343,"y":1431},{"c":151,"x":1350,"y":1435},{"c":151,"x":1358,"y":1436.5},{"c":151,"x":1366,"y":1435},{"c":151,"x":1375,"y":1433},{"c":151,"x":1383,"y":1434.5},{"c":151,"x":1391,"y":1432},{"c":151,"x":1394,"y":1423},{"c":151,"x":1395,"y":1412},{"c":151,"x":1392.5,"y":1405.6},{"c":151,"x":1392.5,"y":1397},{"c":151,"x":1395,"y":1393},{"c":151,"x":1398,"y":1391.8},{"c":151,"x":1405,"y":1393.5},{"c":151,"x":1412,"y":1395},{"c":151,"x":1420,"y":1394.7},{"c":151,"x":1428,"y":1392},{"c":151,"x":1433,"y":1387},{"c":151,"x":1436,"y":1380},{"c":151,"x":1437,"y":1372},{"c":151,"x":1437,"y":1362},{"c":151,"x":1434,"y":1352},{"c":151,"x":1430,"y":1344},{"c":151,"x":1424,"y":1337},{"c":151,"x":1416,"y":1335},{"c":151,"x":1408,"y":1334.5},{"c":151,"x":1402,"y":1336},{"c":151,"x":1398,"y":1339},{"c":151,"x":1394.5,"y":1339},{"c":151,"x":1393,"y":1334},{"c":151,"x":1391,"y":1330},{"c":151,"x":1386,"y":1329.5},{"c":151,"x":1384,"y":1332},{"c":151,"x":1378,"y":1330},{"c":151,"x":1370,"y":1327.5},{"c":151,"x":1362,"y":1326.5},{"c":151,"x":1355,"y":1330},{"c":151,"x":1350,"y":1335.7},{"c":151,"x":1345,"y":1339.5},{"c":151,"x":1340,"y":1344.5},{"c":151,"x":1337,"y":1349},{"c":151,"x":1332,"y":1357},{"c":151,"x":1328.5,"y":1363},{"c":151,"x":1327,"y":1370},{"c":151,"x":1330,"y":1377.5},{"c":151,"x":1332,"y":1384},{"c":151,"x":1331.5,"y":1388.5},{"c":151,"x":1340,"y":1390.5},{"c":151,"x":1350,"y":1394.5},{"c":151,"x":1351,"y":1400},{"c":151,"x":1347,"y":1404.6},{"c":151,"x":1340,"y":1408.3},{"c":151,"x":1336,"y":1412},{"c":151,"x":1336,"y":1420},
{"c":152,"x":1350,"y":1421},{"c":152,"x":1356.4,"y":1423.7},{"c":152,"x":1364.1,"y":1426.4},{"c":152,"x":1371.9,"y":1424.6},{"c":152,"x":1378.1,"y":1422.8},{"c":152,"x":1383.5,"y":1421},{"c":152,"x":1389.5,"y":1423.5},{"c":152,"x":1391.5,"y":1417.4},{"c":152,"x":1390.8,"y":1410.1},{"c":152,"x":1387.4,"y":1405.6},{"c":152,"x":1379.7,"y":1404.6},{"c":152,"x":1371.9,"y":1403.7},{"c":152,"x":1364.1,"y":1403.7},{"c":152,"x":1356.4,"y":1406.5},{"c":152,"x":1351.2,"y":1411.9},{"c":152,"x":1350,"y":1421},
{"c":153,"x":1357.1,"y":1420.1},{"c":153,"x":1362.6,"y":1421},{"c":153,"x":1366.5,"y":1418.3},{"c":153,"x":1368,"y":1413.7},{"c":153,"x":1367.2,"y":1409.2},{"c":153,"x":1364.1,"y":1408.3},{"c":153,"x":1359.5,"y":1408.6},{"c":153,"x":1357.1,"y":1411.9},{"c":153,"x":1357.9,"y":1415.5},{"c":153,"x":1357.1,"y":1420.1},
{"c":154,"x":1388.5,"y":1421.5},{"c":154,"x":1389.2,"y":1411},{"c":154,"x":1381.5,"y":1412.3},{"c":154,"x":1388.5,"y":1421.5},
{"c":155,"x":1372,"y":1410.3},{"c":155,"x":1376,"y":1410.7},{"c":155,"x":1379.5,"y":1410.3},{"c":155,"x":1376,"y":1409.9},{"c":155,"x":1372,"y":1410.3},
{"c":156,"x":1375.6,"y":1398.5},{"c":156,"x":1375.2,"y":1399.4},{"c":156,"x":1374.2,"y":1399.8},{"c":156,"x":1373.2,"y":1399.4},{"c":156,"x":1372.8,"y":1398.5},{"c":156,"x":1373.2,"y":1397.6},{"c":156,"x":1374.2,"y":1397.2},{"c":156,"x":1375.2,"y":1397.6},{"c":156,"x":1375.6,"y":1398.5},
{"c":157,"x":1383,"y":1399},{"c":157,"x":1382.3,"y":1400.6},{"c":157,"x":1380.6,"y":1401.2},{"c":157,"x":1378.9,"y":1400.6},{"c":157,"x":1378.2,"y":1399},{"c":157,"x":1378.9,"y":1397.4},{"c":157,"x":1380.6,"y":1396.8},{"c":157,"x":1382.3,"y":1397.4},{"c":157,"x":1383,"y":1399},
{"c":158,"x":1402.2,"y":1415.5},{"c":158,"x":1406.1,"y":1426.4},{"c":158,"x":1410.7,"y":1430.1},{"c":158,"x":1417,"y":1431},{"c":158,"x":1423.2,"y":1428.3},{"c":158,"x":1427.8,"y":1426.4},{"c":158,"x":1430.9,"y":1421},{"c":158,"x":1430.9,"y":1413.7},{"c":158,"x":1429.4,"y":1408.3},{"c":158,"x":1424.7,"y":1404.6},{"c":158,"x":1420,"y":1401.9},{"c":158,"x":1413.8,"y":1401.9},{"c":158,"x":1409.2,"y":1406.5},{"c":158,"x":1406.1,"y":1410.1},{"c":158,"x":1402.2,"y":1415.5},
{"c":159,"x":1417.2,"y":1415.5},{"c":159,"x":1416.7,"y":1416.5},{"c":159,"x":1415.4,"y":1416.9},{"c":159,"x":1414.1,"y":1416.5},{"c":159,"x":1413.6,"y":1415.5},{"c":159,"x":1414.1,"y":1414.5},{"c":159,"x":1415.4,"y":1414.1},{"c":159,"x":1416.7,"y":1414.5},{"c":159,"x":1417.2,"y":1415.5},
{"c":160,"x":1345.5,"y":1390.2},{"c":160,"x":1370,"y":1390.2},{"c":160,"x":1392.2,"y":1390.2},{"c":160,"x":1392.2,"y":1370},{"c":160,"x":1392.2,"y":1350},{"c":160,"x":1392.2,"y":1337},{"c":160,"x":1388,"y":1337},{"c":160,"x":1384.3,"y":1337.5},{"c":160,"x":1379.7,"y":1333.8},{"c":160,"x":1371.9,"y":1333.8},{"c":160,"x":1361,"y":1339.3},{"c":160,"x":1353.3,"y":1342.9},{"c":160,"x":1347.1,"y":1348.4},{"c":160,"x":1340.8,"y":1355.6},{"c":160,"x":1337.7,"y":1361.1},{"c":160,"x":1340.8,"y":1368.4},{"c":160,"x":1347.1,"y":1373.8},{"c":160,"x":1348.6,"y":1381},{"c":160,"x":1345.5,"y":1385},{"c":160,"x":1345.5,"y":1390.2},
{"c":161,"x":1361.3,"y":1377.4},{"c":161,"x":1363,"y":1380},{"c":161,"x":1366,"y":1380.5},{"c":161,"x":1367.5,"y":1378},{"c":161,"x":1367.2,"y":1374},{"c":161,"x":1371.9,"y":1372},{"c":161,"x":1378,"y":1371},{"c":161,"x":1382.8,"y":1372},{"c":161,"x":1386.7,"y":1373.4},{"c":161,"x":1390.5,"y":1372},{"c":161,"x":1391,"y":1368.3},{"c":161,"x":1391,"y":1362.9},{"c":161,"x":1389,"y":1357.4},{"c":161,"x":1386.7,"y":1355.6},{"c":161,"x":1379.7,"y":1356.5},{"c":161,"x":1373.5,"y":1355.6},{"c":161,"x":1371.9,"y":1350.2},{"c":161,"x":1368.8,"y":1346.6},{"c":161,"x":1364.1,"y":1345.6},{"c":161,"x":1359.5,"y":1348.4},{"c":161,"x":1354.8,"y":1352},{"c":161,"x":1350.9,"y":1357.4},{"c":161,"x":1348.6,"y":1361.1},{"c":161,"x":1349.5,"y":1367.5},{"c":161,"x":1353.5,"y":1371},{"c":161,"x":1359.5,"y":1374},{"c":161,"x":1361.3,"y":1377.4},
{"c":162,"x":1357,"y":1388},{"c":162,"x":1364,"y":1389},{"c":162,"x":1371,"y":1388.5},{"c":162,"x":1372,"y":1385.5},{"c":162,"x":1368,"y":1383},{"c":162,"x":1365,"y":1382},{"c":162,"x":1361,"y":1383},{"c":162,"x":1357.5,"y":1385.5},{"c":162,"x":1357,"y":1388},
{"c":163,"x":1364,"y":1387.3},{"c":163,"x":1366,"y":1387.3},{"c":163,"x":1365,"y":1386.7},{"c":163,"x":1364,"y":1387.3},
{"c":164,"x":1390.2,"y":1387.4},{"c":164,"x":1389.4,"y":1389.1},{"c":164,"x":1387.4,"y":1389.8},{"c":164,"x":1385.4,"y":1389.1},{"c":164,"x":1384.6,"y":1387.4},{"c":164,"x":1385.4,"y":1385.7},{"c":164,"x":1387.4,"y":1385},{"c":164,"x":1389.4,"y":1385.7},{"c":164,"x":1390.2,"y":1387.4},
{"c":165,"x":1388.4,"y":1387.6},{"c":165,"x":1387.4,"y":1388.4},{"c":165,"x":1386.4,"y":1387.6},{"c":165,"x":1387.4,"y":1386.8},{"c":165,"x":1388.4,"y":1387.6},
{"c":166,"x":1377.9,"y":1387.2},{"c":166,"x":1377.3,"y":1387.7},{"c":166,"x":1376.7,"y":1387.2},{"c":166,"x":1377.3,"y":1386.7},{"c":166,"x":1377.9,"y":1387.2},
{"c":167,"x":1381.6,"y":1381.2},{"c":167,"x":1381,"y":1381.7},{"c":167,"x":1380.4,"y":1381.2},{"c":167,"x":1381,"y":1380.7},{"c":167,"x":1381.6,"y":1381.2},
{"c":168,"x":1388.2,"y":1377},{"c":168,"x":1387.9,"y":1377.7},{"c":168,"x":1387.2,"y":1378},{"c":168,"x":1386.5,"y":1377.7},{"c":168,"x":1386.2,"y":1377},{"c":168,"x":1386.5,"y":1376.3},{"c":168,"x":1387.2,"y":1376},{"c":168,"x":1387.9,"y":1376.3},{"c":168,"x":1388.2,"y":1377},
{"c":169,"x":1353.5,"y":1367.5},{"c":169,"x":1356.4,"y":1371.5},{"c":169,"x":1362.6,"y":1373.8},{"c":169,"x":1368,"y":1372.9},{"c":169,"x":1371.9,"y":1368.3},{"c":169,"x":1376.6,"y":1366.5},{"c":169,"x":1378.9,"y":1364.7},{"c":169,"x":1376.6,"y":1362},{"c":169,"x":1371.9,"y":1361.1},{"c":169,"x":1370.3,"y":1356.5},{"c":169,"x":1367.2,"y":1352},{"c":169,"x":1362.6,"y":1350.2},{"c":169,"x":1357.9,"y":1353.8},{"c":169,"x":1354,"y":1358.4},{"c":169,"x":1352.2,"y":1362.9},{"c":169,"x":1353.5,"y":1367.5},
{"c":170,"x":1355.6,"y":1365.6},{"c":170,"x":1360.3,"y":1369.2},{"c":170,"x":1364.9,"y":1370.2},{"c":170,"x":1369.6,"y":1366.5},{"c":170,"x":1370.3,"y":1361.1},{"c":170,"x":1367.2,"y":1355.6},{"c":170,"x":1362.6,"y":1354.7},{"c":170,"x":1358.7,"y":1358.4},{"c":170,"x":1355.6,"y":1362},{"c":170,"x":1355.6,"y":1365.6},
{"c":171,"x":1358.7,"y":1364.7},{"c":171,"x":1363.4,"y":1367.4},{"c":171,"x":1368,"y":1364.7},{"c":171,"x":1367.2,"y":1359.3},{"c":171,"x":1363.4,"y":1358.4},{"c":171,"x":1359.5,"y":1361.1},{"c":171,"x":1358.7,"y":1364.7},
{"c":172,"x":1366.5,"y":1363.5},{"c":172,"x":1365.9,"y":1364.4},{"c":172,"x":1364.5,"y":1364.8},{"c":172,"x":1363.1,"y":1364.4},{"c":172,"x":1362.5,"y":1363.5},{"c":172,"x":1363.1,"y":1362.6},{"c":172,"x":1364.5,"y":1362.2},{"c":172,"x":1365.9,"y":1362.6},{"c":172,"x":1366.5,"y":1363.5},
{"c":173,"x":1387.2,"y":1369},{"c":173,"x":1389.8,"y":1368},{"c":173,"x":1390.2,"y":1363},{"c":173,"x":1389,"y":1360.2},{"c":173,"x":1386.8,"y":1361.5},{"c":173,"x":1385.2,"y":1364.7},{"c":173,"x":1385.7,"y":1367.8},{"c":173,"x":1387.2,"y":1369},
{"c":174,"x":1388.5,"y":1364.5},{"c":174,"x":1388.9,"y":1363.5},{"c":174,"x":1388.5,"y":1362.5},{"c":174,"x":1388.1,"y":1363.5},{"c":174,"x":1388.5,"y":1364.5},
{"c":175,"x":1339,"y":1344.3},{"c":175,"x":1341.4,"y":1344.3},{"c":175,"x":1341.4,"y":1342.3},{"c":175,"x":1339,"y":1342.3},{"c":175,"x":1339,"y":1344.3},
{"c":176,"x":1343.6,"y":1340.3},{"c":176,"x":1345.6,"y":1340.3},{"c":176,"x":1344.6,"y":1338.7},{"c":176,"x":1343.6,"y":1340.3},
{"c":177,"x":1407.6,"y":1389.2},{"c":177,"x":1416.9,"y":1389.6},{"c":177,"x":1423.2,"y":1387.4},{"c":177,"x":1423.9,"y":1383.8},{"c":177,"x":1420,"y":1381},{"c":177,"x":1413.8,"y":1380.1},{"c":177,"x":1409.2,"y":1382},{"c":177,"x":1407.6,"y":1385.6},{"c":177,"x":1407.6,"y":1389.2},
{"c":178,"x":1409.9,"y":1378.3},{"c":178,"x":1416.9,"y":1377.4},{"c":178,"x":1426.2,"y":1378.3},{"c":178,"x":1430.1,"y":1373.8},{"c":178,"x":1431.7,"y":1366.5},{"c":178,"x":1432.5,"y":1360.2},{"c":178,"x":1430.1,"y":1353.8},{"c":178,"x":1424.7,"y":1350.2},{"c":178,"x":1416.9,"y":1349.3},{"c":178,"x":1409.2,"y":1350.2},{"c":178,"x":1404.5,"y":1355.6},{"c":178,"x":1402.2,"y":1362},{"c":178,"x":1403.7,"y":1368.3},{"c":178,"x":1407.6,"y":1371.1},{"c":178,"x":1409.9,"y":1373.8},{"c":178,"x":1409.9,"y":1378.3},
{"c":179,"x":1408.4,"y":1366.5},{"c":179,"x":1412.3,"y":1368.3},{"c":179,"x":1416.9,"y":1369.2},{"c":179,"x":1421.6,"y":1367.4},{"c":179,"x":1423.2,"y":1362.9},{"c":179,"x":1421.6,"y":1357.4},{"c":179,"x":1416.9,"y":1356.5},{"c":179,"x":1412.3,"y":1357.4},{"c":179,"x":1409.2,"y":1355.6},{"c":179,"x":1408.4,"y":1361.1},{"c":179,"x":1408.4,"y":1366.5},
{"c":180,"x":1401.9,"y":1380.8},{"c":180,"x":1401.1,"y":1382.8},{"c":180,"x":1399.1,"y":1383.6},{"c":180,"x":1397.1,"y":1382.8},{"c":180,"x":1396.3,"y":1380.8},{"c":180,"x":1397.1,"y":1378.8},{"c":180,"x":1399.1,"y":1378},{"c":180,"x":1401.1,"y":1378.8},{"c":180,"x":1401.9,"y":1380.8},
{"c":181,"x":1398,"y":1373},{"c":181,"x":1400.2,"y":1373},{"c":181,"x":1399.1,"y":1375},{"c":181,"x":1398,"y":1373},
{"c":183,"x":1458.6,"y":1388.3},{"c":183,"x":1466.4,"y":1388.3},{"c":183,"x":1465.9,"y":1381},{"c":183,"x":1464.8,"y":1379.2},{"c":183,"x":1466.6,"y":1372},{"c":183,"x":1468.2,"y":1364.7},{"c":183,"x":1469,"y":1359.3},{"c":183,"x":1467.4,"y":1352},{"c":183,"x":1464.3,"y":1348.4},{"c":183,"x":1461.2,"y":1347.4},{"c":183,"x":1459.6,"y":1351.1},{"c":183,"x":1458.6,"y":1359.3},{"c":183,"x":1458.9,"y":1368.4},{"c":183,"x":1460.4,"y":1377.4},{"c":183,"x":1458.9,"y":1382.8},{"c":183,"x":1458.6,"y":1388.3},
{"c":184,"x":1462.7,"y":1363.8},{"c":184,"x":1462.3,"y":1364.65},{"c":184,"x":1461.2,"y":1365},{"c":184,"x":1460.1,"y":1364.65},{"c":184,"x":1459.7,"y":1363.8},{"c":184,"x":1460.1,"y":1362.95},{"c":184,"x":1461.2,"y":1362.6},{"c":184,"x":1462.3,"y":1362.95},{"c":184,"x":1462.7,"y":1363.8},
{"c":185,"x":1459.5,"y":1419},{"c":185,"x":1462.5,"y":1419},{"c":185,"x":1462.7,"y":1416},{"c":185,"x":1462.5,"y":1413},{"c":185,"x":1459.5,"y":1413},{"c":185,"x":1459.3,"y":1416},{"c":185,"x":1459.5,"y":1419},
{"c":186,"x":1460.2,"y":1410.3},{"c":186,"x":1462.8,"y":1410.3},{"c":186,"x":1462.8,"y":1409.9},{"c":186,"x":1460.2,"y":1409.9},{"c":186,"x":1460.2,"y":1410.3}
]
},
"encoding": {
"x": {"field": "x", "type": "quantitative", "scale": {"domain": [1320, 1520], "nice": false, "zero": false},
 "axis": {"values": [1350, 1400, 1450, 1500], "format": "d", "grid": false, "tickSize": 8, "tickColor": "#111", "domainColor": "#111", "labelFontSize": 13.5, "labelColor": "#222", "labelPadding": 3, "title": "Wavenumber (cm⁻¹ )", "titleFontSize": 17, "titleFontWeight": "normal", "titleColor": "#111", "titleX": 232.5, "titleY": 35, "titleBaseline": "middle", "titleAlign": "center"}},
"y": {"field": "y", "type": "quantitative", "scale": {"domain": [1320, 1520], "nice": false, "zero": false},
 "axis": {"values": [1350, 1400, 1450, 1500], "format": "d", "grid": false, "tickSize": 11, "tickColor": "#111", "domainColor": "#111", "labelFontSize": 13.5, "labelColor": "#222", "labelPadding": 4, "title": "Wavenumber (cm⁻¹ )", "titleFontSize": 18.5, "titleFontWeight": "normal", "titleColor": "#111", "titleX": -64, "titleY": 166, "titleAngle": 270, "titleBaseline": "middle", "titleAlign": "center"}}
},
"layer": [
{"data": {"name": "diag"}, "mark": {"type": "line", "stroke": "#a8a8a8", "strokeWidth": 0.8}, "encoding": {}},
{"data": {"name": "neg"}, "mark": {"type": "line", "stroke": "#111", "strokeWidth": 1.25, "strokeDash": [1.1, 1.3]}, "encoding": {"detail": {"field": "c", "type": "nominal"}, "order": {"value": null}}},
{"data": {"name": "pos"}, "mark": {"type": "line", "stroke": "#000", "strokeWidth": 1.5}, "encoding": {"detail": {"field": "c", "type": "nominal"}, "order": {"value": null}}}
]
}
